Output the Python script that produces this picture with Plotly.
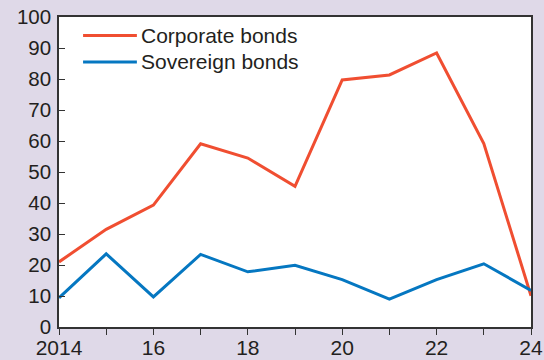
import plotly.graph_objects as go

# Annual series, 2014-2024
years = list(range(2014, 2025))
corporate_bonds = [21, 31.5, 39.3, 59.1, 54.5, 45.4, 79.7, 81.3, 88.4, 59.2, 10.1]
sovereign_bonds = [9.4, 23.6, 9.7, 23.4, 17.8, 19.9, 15.3, 9.0, 15.3, 20.4, 11.8]

x_tick_vals = years
x_tick_text = ["2014", "", "16", "", "18", "", "20", "", "22", "", "24"]
y_tick_vals = list(range(0, 101, 10))

series_names = ["Corporate bonds", "Sovereign bonds"]
series_colors = ["#F04E31", "#0577C1"]

BG = "#DFD9E8"
INK = "#231F20"
FONT = "Liberation Sans, Arial, sans-serif"

fig = go.Figure()
for name, vals, col in zip(series_names, [corporate_bonds, sovereign_bonds], series_colors):
    fig.add_trace(go.Scatter(
        x=years, y=vals, name=name, mode="lines",
        line=dict(color=col, width=3), showlegend=False,
        hoverinfo="x+y+name",
    ))

# Legend drawn as line samples plus labels in the upper-left corner
legend_rows_y = [0.94, 0.855]
for name, col, ly in zip(series_names, series_colors, legend_rows_y):
    fig.add_shape(type="line", xref="paper", yref="paper",
                  x0=0.051, x1=0.165, y0=ly, y1=ly,
                  line=dict(color=col, width=3))
    fig.add_annotation(xref="paper", yref="paper", x=0.170, y=ly,
                       xanchor="left", yanchor="middle", showarrow=False,
                       text=name, font=dict(family=FONT, size=21, color=INK))

fig.update_layout(
    width=544, height=360,
    margin=dict(l=59, r=13, t=17, b=33),
    paper_bgcolor=BG, plot_bgcolor="white",
    font=dict(family=FONT, size=20.5, color=INK),
)
fig.update_xaxes(
    range=[2014, 2024], tickvals=x_tick_vals, ticktext=x_tick_text,
    ticks="outside", ticklen=6, tickwidth=1.2, tickcolor="#333333",
    ticklabelstandoff=-5,
    showline=True, linecolor="#333333", linewidth=1.5, mirror=True,
    showgrid=False, zeroline=False, tickfont=dict(size=21),
    automargin=False,
)
fig.update_yaxes(
    range=[0, 100], tickvals=y_tick_vals,
    ticks="inside", ticklen=6, tickwidth=1.2, tickcolor="#333333",
    ticklabelstandoff=2,
    showline=True, linecolor="#333333", linewidth=1.5, mirror=True,
    showgrid=False, zeroline=False, automargin=False,
)

fig.write_html("out.html")
